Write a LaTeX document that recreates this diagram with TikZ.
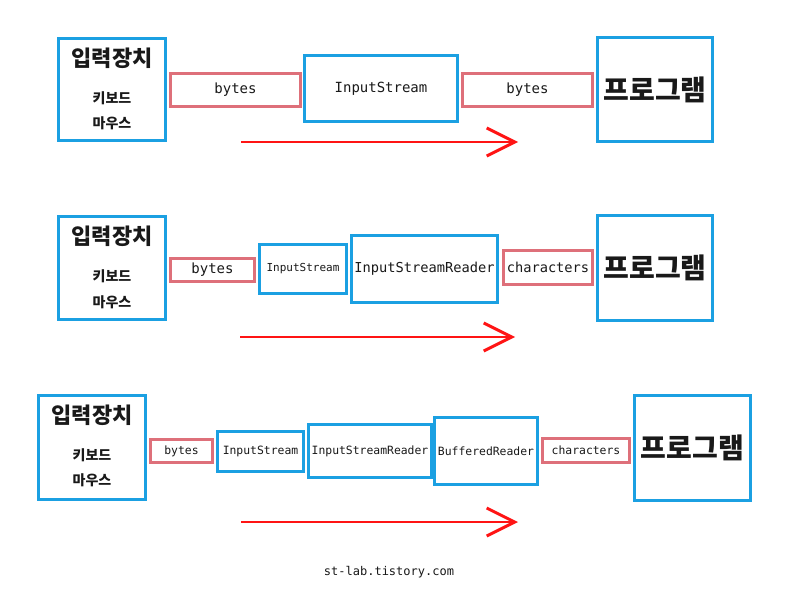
\documentclass[tikz,border=0pt]{standalone}
\usepackage{fontspec}
\newfontfamily\kr{Noto Sans CJK KR}
\newfontfamily\mono{DejaVu Sans Mono}
\usetikzlibrary{arrows.meta}
\definecolor{boxblue}{RGB}{27,160,226}
\definecolor{boxred}{RGB}{222,112,122}
\definecolor{arrred}{RGB}{255,20,20}
\definecolor{ink}{RGB}{25,25,25}
\newcommand\drawbox[7]{%
  \pgfmathsetmacro\cx{(#3+#5)/2}\pgfmathsetmacro\cy{(#4+#6)/2}%
  \pgfmathsetmacro\ww{#5-#3-3}\pgfmathsetmacro\hh{#6-#4-3}%
  \node[#2, minimum width=\ww pt, minimum height=\hh pt] (#1) at (\cx,\cy) {#7};}
\tikzset{
  bluebox/.style={draw=boxblue, line width=3pt, fill=white, inner sep=0pt, text=ink},
  redbox/.style={draw=boxred, line width=3pt, fill=white, inner sep=0pt, text=ink},
  flowarrow/.style={draw=arrred, line width=2pt, -{Straight Barb[length=28pt,width=28pt,line width=3pt]}},
  title/.style={font=\kr\bfseries\fontsize{22}{24}\selectfont, text=ink},
  sub/.style={font=\kr\bfseries\fontsize{14}{16}\selectfont, text=ink},
  prog/.style={font=\kr\bfseries\fontsize{28}{30}\selectfont},
  mL/.style={font=\mono\fontsize{14}{16}\selectfont},
  mM/.style={font=\mono\fontsize{13.7}{16}\selectfont},
  mS/.style={font=\mono\fontsize{11.4}{13}\selectfont},
  mXS/.style={font=\mono\fontsize{11}{13}\selectfont},
}
\begin{document}
\begin{tikzpicture}[x=1pt,y=-1pt]
\useasboundingbox[fill=white] (0,0) rectangle (809,591);
% ---------- Row 1
\drawbox{in1}{bluebox}{57}{37}{167}{142}{}
\node[title] (in1t) at (112,58) {입력장치};
\node[sub] (in1a) at (112,98) {키보드};
\node[sub] (in1b) at (112,123) {마우스};
\drawbox{b1}{redbox,mL}{169}{72}{302}{108}{bytes}
\drawbox{is1}{bluebox,mL}{303}{54}{459}{123}{InputStream}
\drawbox{b1b}{redbox,mL}{461}{72}{594}{108}{bytes}
\drawbox{pg1}{bluebox,prog}{596}{36}{714}{143}{프로그램}
\coordinate (a1s) at (241,142);
\coordinate (a1e) at (518,142);
\draw[flowarrow] (a1s) -- (a1e);
% ---------- Row 2
\drawbox{in2}{bluebox}{57}{215}{167}{321}{}
\node[title] (in2t) at (112,236) {입력장치};
\node[sub] (in2a) at (112,276) {키보드};
\node[sub] (in2b) at (112,302) {마우스};
\drawbox{b2}{redbox,mL}{169}{257}{256}{283}{bytes}
\drawbox{is2}{bluebox,mXS}{258}{243}{348}{295}{InputStream}
\drawbox{isr2}{bluebox,mM}{350}{234}{499}{304}{InputStreamReader}
\drawbox{c2}{redbox,mM}{502}{249}{594}{286}{characters}
\drawbox{pg2}{bluebox,prog}{596}{214}{714}{322}{프로그램}
\coordinate (a2s) at (240,337);
\coordinate (a2e) at (515,337);
\draw[flowarrow] (a2s) -- (a2e);
% ---------- Row 3
\drawbox{in3}{bluebox}{37}{394}{147}{501}{}
\node[title] (in3t) at (92,415) {입력장치};
\node[sub] (in3a) at (92,455) {키보드};
\node[sub] (in3b) at (92,480) {마우스};
\drawbox{b3}{redbox,mS}{149}{438}{214}{464}{bytes}
\drawbox{is3}{bluebox,mS}{216}{430}{305}{473}{InputStream}
\drawbox{isr3}{bluebox,mS}{307}{423}{433}{479}{InputStreamReader}
\drawbox{br3}{bluebox,mS}{433}{416}{539}{486}{BufferedReader}
\drawbox{c3}{redbox,mS}{541}{437}{631}{464}{characters}
\drawbox{pg3}{bluebox,prog}{633}{394}{752}{502}{프로그램}
\coordinate (a3s) at (241,522);
\coordinate (a3e) at (518,522);
\draw[flowarrow] (a3s) -- (a3e);
% ---------- footer
\node[font=\mono\fontsize{12}{14}\selectfont, text=ink] (foot) at (389,572) {st-lab.tistory.com};
\end{tikzpicture}
\end{document}
